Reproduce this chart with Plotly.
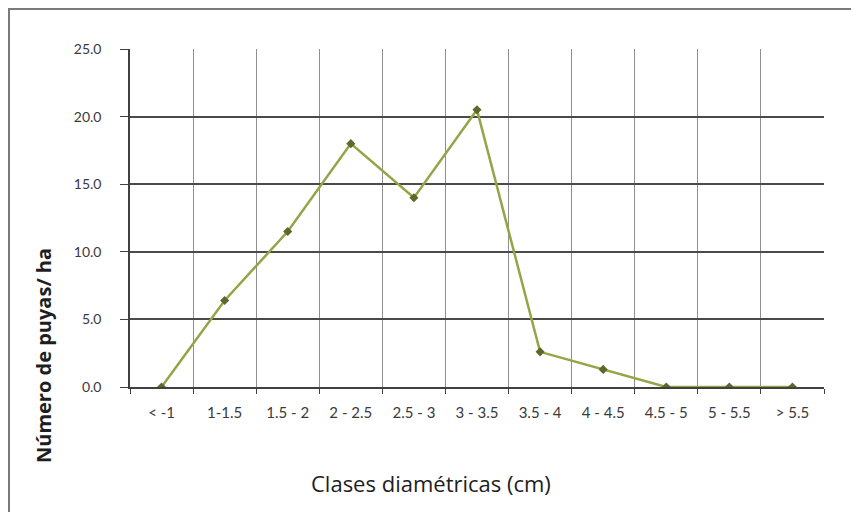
import plotly.graph_objects as go

# Diameter classes (cm) and number of plants per hectare
clases = ["< -1", "1-1.5", "1.5 - 2", "2 - 2.5", "2.5 - 3", "3 - 3.5",
          "3.5 - 4", "4 - 4.5", "4.5 - 5", "5 - 5.5", "> 5.5"]
puyas_ha = [0.0, 6.4, 11.5, 18.0, 14.0, 20.5, 2.6, 1.3, 0.0, 0.0, 0.0]
y_ticks = [0, 5, 10, 15, 20, 25]
y_tick_text = ["0.0", "5.0", "10.0", "15.0", "20.0", "25.0"]

FONT = "Lato, Carlito, 'Liberation Sans Narrow', sans-serif"
TITLE_FONT = "'Open Sans', Lato, sans-serif"

fig = go.Figure()
fig.add_trace(go.Scatter(
    x=clases, y=puyas_ha, mode="lines+markers",
    line=dict(color="#94a548", width=2.5),
    marker=dict(symbol="diamond", size=7, color="#5a6a2a",
                line=dict(width=0)),
    showlegend=False,
))

fig.update_layout(
    width=851, height=512,
    margin=dict(l=130, r=27, t=49, b=125),
    paper_bgcolor="white", plot_bgcolor="white",
    font=dict(family=FONT, size=14, color="#404040"),
    xaxis=dict(
        type="category", tickson="boundaries",
        showgrid=True, gridcolor="#8f8f8f", gridwidth=1,
        showline=True, linecolor="#404040", linewidth=1.5,
        ticks="outside", ticklen=5, tickcolor="#404040",
        ticklabelstandoff=11,
        tickfont=dict(size=15, color="#3a3a3a"),
        range=[-0.5, 10.5],
    ),
    yaxis=dict(
        range=[0, 25], tickvals=y_ticks, ticktext=y_tick_text,
        showgrid=True, gridcolor="#4a4a4a", gridwidth=1.5,
        showline=True, linecolor="#404040", linewidth=1.5,
        ticks="outside", ticklen=8, tickcolor="#404040",
        ticklabelstandoff=16, zeroline=False,
        tickfont=dict(size=14, color="#3a3a3a"),
    ),
    annotations=[
        dict(text="Clases diamétricas (cm)", xref="paper", yref="paper",
             x=(431 - 130) / 694, y=(387 - 483) / 338,
             xanchor="center", yanchor="middle", showarrow=False,
             font=dict(family=TITLE_FONT, size=22, color="#1e1e1e")),
        dict(text="<b>Número de puyas/ ha</b>", xref="paper", yref="paper",
             x=(43 - 130) / 694, y=(387 - 356) / 338, textangle=-90,
             xanchor="center", yanchor="middle", showarrow=False,
             font=dict(family=TITLE_FONT, size=20, color="#1e1e1e")),
    ],
    shapes=[
        dict(type="rect", xref="paper", yref="paper",
             x0=(9 - 130) / 694, x1=(870 - 130) / 694,
             y0=(387 - 530) / 338, y1=(387 - 9) / 338,
             line=dict(color="#7a7a7a", width=2), layer="below"),
    ],
)

fig.write_html("out.html")
